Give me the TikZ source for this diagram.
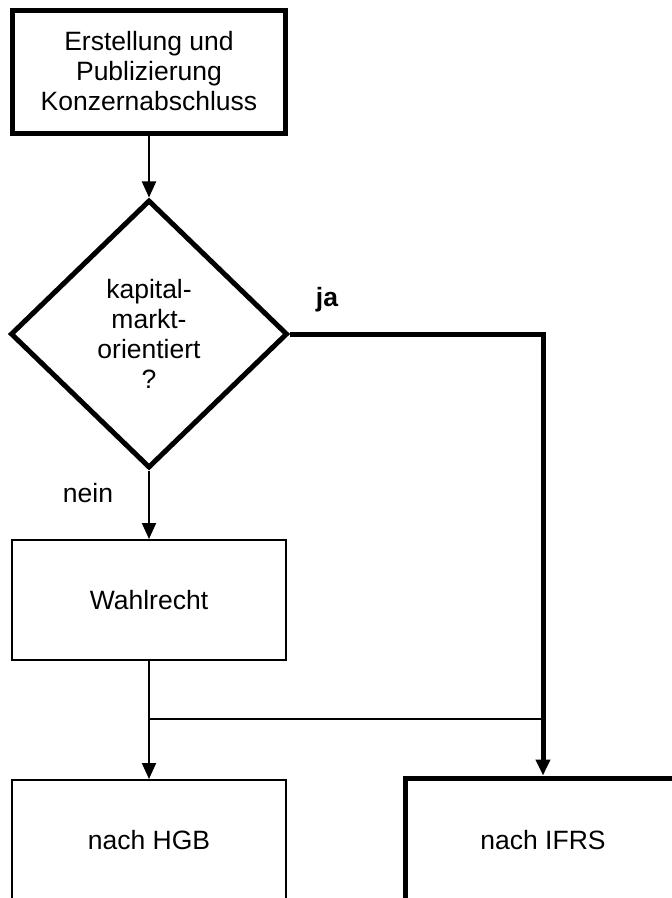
\documentclass[tikz,border=0pt]{standalone}
\usepackage{fontspec}
\setmainfont{Liberation Sans}
\usetikzlibrary{shapes.geometric,arrows.meta}
\begin{document}
\begin{tikzpicture}[x=1pt,y=-1pt,
  font=\fontsize{26.5}{30}\selectfont,
  box/.style={draw, line width=2pt, minimum width=274pt, minimum height=120pt, align=center, inner sep=0pt},
  boldbox/.style={box, line width=5pt},
  decision/.style={diamond, draw, line width=5pt, minimum width=277pt, minimum height=268pt, align=center, inner sep=0pt},
  thinline/.style={line width=2pt},
  thickline/.style={line width=5pt},
  tip/.style={-{Triangle[length=16pt,width=14pt]}},
  lbl/.style={inner sep=0pt}]
\useasboundingbox (0,0) rectangle (672,898);
\clip (0,0) rectangle (672,898);
\node[boldbox, minimum width=273pt, minimum height=123pt] (top) at (149,71.5) {Erstellung und\\Publizierung\\Konzernabschluss};
\node[decision] (dia) at (149,334) {kapital-\\markt-\\orientiert\\?};
\node[box] (wahl) at (149,600) {Wahlrecht};
\node[box] (hgb) at (149,840) {nach HGB};
\node[boldbox, minimum width=276pt, minimum height=124pt] (ifrs) at (543,840) {nach IFRS};
\node[lbl, font=\fontsize{26.5}{30}\selectfont\bfseries] (ja) at (327,300) {ja};
\node[lbl] (nein) at (88,493) {nein};
\coordinate (j) at (149,719);
\coordinate (jr) at (543,719);
\draw[thinline, tip] (top) -- (dia);
\draw[thinline, tip] (dia) -- (wahl);
\draw[thinline] (wahl) -- (j) -- (jr);
\draw[thinline, tip] (j) -- (hgb);
\draw[thickline, tip] (dia.east) -| (ifrs.north);
\end{tikzpicture}
\end{document}
